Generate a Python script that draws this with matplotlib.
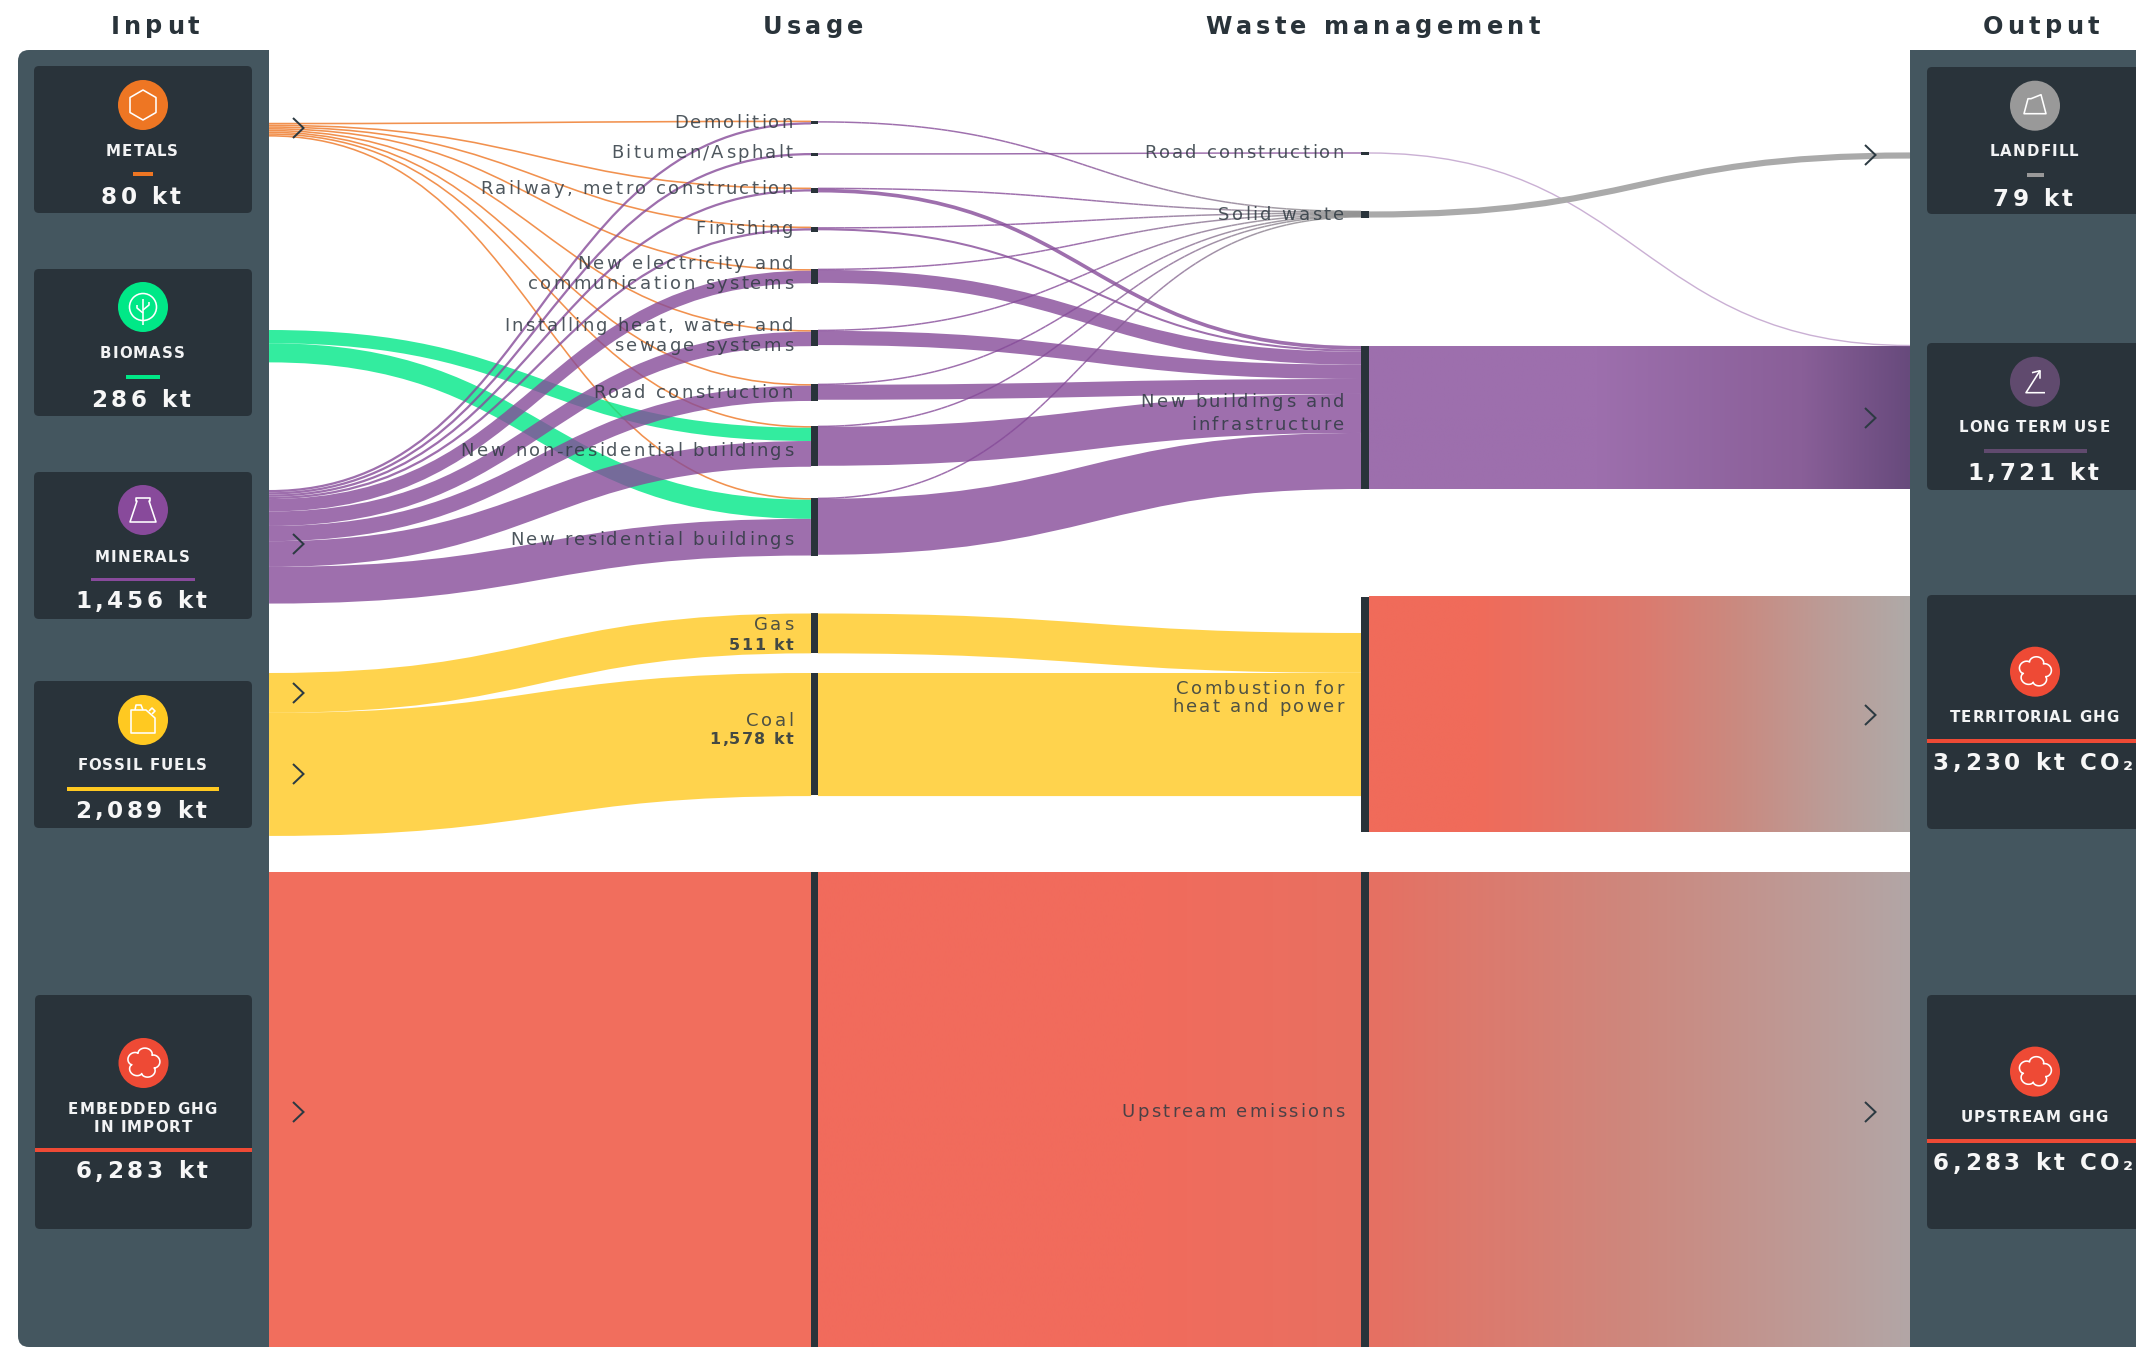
import numpy as np
import matplotlib
matplotlib.use('Agg')
import matplotlib.pyplot as plt
from matplotlib.path import Path
from matplotlib.patches import PathPatch, Rectangle, FancyBboxPatch, Circle, Polygon
from matplotlib.collections import LineCollection
from matplotlib.text import Text
from matplotlib.transforms import IdentityTransform

# values in kt (thin links are estimates)
usage_nodes = ['Demolition', 'Bitumen', 'Railway', 'Finishing', 'Electricity', 'Heat', 'Road', 'NonRes', 'Res']
metals_targets = ['Demolition', 'Railway', 'Finishing', 'Electricity', 'Heat', 'Road', 'NonRes', 'Res']
metals_values = [10, 10, 10, 10, 10, 10, 10, 10]
biomass_targets = ['NonRes', 'Res']
biomass_values = [170, 245]
minerals_targets = usage_nodes
minerals_values = [29, 29, 29, 29, 160, 185, 195, 330, 470]
fossil_targets = ['Gas', 'Coal']
fossil_values = [511, 1578]
embedded_value = 6283

solid_sources = ['Demolition', 'Railway', 'Finishing', 'Electricity', 'Heat', 'Road', 'NonRes', 'Res']
solid_values = [10, 10, 10, 10, 10, 10, 10, 10]
building_sources = ['Railway', 'Finishing', 'Electricity', 'Heat', 'Road', 'NonRes', 'Res']
building_values = [47, 26, 167, 183, 192, 500, 718]
road_value = 10
landfill_value = 79
combustion_band = 3013

input_cards = [('METALS', '80 kt'), ('BIOMASS', '286 kt'), ('MINERALS', '1,456 kt'),
               ('FOSSIL FUELS', '2,089 kt'), ('EMBEDDED GHG\nIN IMPORT', '6,283 kt')]
output_cards = [('LANDFILL', '79 kt'), ('LONG TERM USE', '1,721 kt'),
                ('TERRITORIAL GHG', '3,230 kt CO₂'), ('UPSTREAM GHG', '6,283 kt CO₂')]
usage_labels = ['Demolition', 'Bitumen/Asphalt', 'Railway, metro construction', 'Finishing',
                'New electricity and\ncommunication systems', 'Installing heat, water and\nsewage systems',
                'Road construction', 'New non-residential buildings', 'New residential buildings']
waste_labels = ['Road construction', 'Solid waste', 'New buildings and\ninfrastructure',
                'Combustion for\nheat and power', 'Upstream emissions']

# layout, in picture pixels
W, H = 2136, 1347
DPI = 100
SCALE = 0.078
X_IN, X_USE0, X_USE1, X_WST0, X_WST1, X_OUT = 269, 811, 818, 1361, 1368.5, 1910
DARK = '#29333A'
PANEL = '#44565F'
ORANGE, GREEN, PURPLE, YELLOW, RED, GREY = '#EE7623', '#00E887', '#864B99', '#FFC921', '#EE4A35', '#AAAAAA'

in_top = {'Demolition': 120.5, 'Bitumen': 153, 'Railway': 187.5, 'Finishing': 226.5, 'Electricity': 269,
          'Heat': 330, 'Road': 384, 'NonRes': 426, 'Res': 498, 'Gas': 613.5, 'Coal': 673, 'Upstream': 872}
out_top = {'Demolition': 121.5, 'Bitumen': 153.5, 'Railway': 188, 'Finishing': 227.5, 'Electricity': 269,
           'Heat': 330, 'Road': 384, 'NonRes': 426, 'Res': 498, 'Gas': 613.5, 'Coal': 673, 'Upstream': 872}
bar_span = {'Demolition': (121, 124), 'Bitumen': (153, 156), 'Railway': (188, 193), 'Finishing': (227, 232),
            'Electricity': (269, 284), 'Heat': (330, 346), 'Road': (384, 401), 'NonRes': (426, 466),
            'Res': (498, 556), 'Gas': (613, 653), 'Coal': (673, 795), 'Upstream': (872, 1347)}

plt.rcParams['font.family'] = ['DejaVu Sans']
fig = plt.figure(figsize=(W / DPI, H / DPI), dpi=DPI)
ax = fig.add_axes([0, 0, 1, 1])
ax.set_axis_off()


def px(size):
    return size * 72 / DPI


class SpacedText(Text):
    # one text object, drawn with letter spacing (given in pixels)
    spacing = 0.0

    def draw(self, renderer):
        s = self.get_text()
        prop = self.get_fontproperties()
        w, h, d = renderer.get_text_width_height_descent(s, prop, False)
        total = w + self.spacing * (len(s) - 1)
        x, y = self.get_transform().transform(self.get_position())
        start = {'left': x, 'center': x - total / 2, 'right': x - total}[self.get_horizontalalignment()]
        base = y - (h / 2 - d)
        for i, ch in enumerate(s):
            adv = renderer.get_text_width_height_descent(s[:i], prop, False)[0] if i else 0
            t = Text(start + adv + i * self.spacing, base, ch, fontproperties=prop, color=self.get_color(),
                     alpha=self.get_alpha(), ha='left', va='baseline', transform=IdentityTransform())
            t.set_figure(self.get_figure())
            t.draw(renderer)


def label(x, y, s, size, spacing, pitch=20.5, weight='normal', color='#2F3A42', alpha=None, ha='right', z=8):
    # y is the middle of the whole block, one object per line
    lines = s.split('\n')
    for i, line in enumerate(lines):
        t = SpacedText(x, y + (i - (len(lines) - 1) / 2) * pitch, line, color=color, alpha=alpha, ha=ha, va='center',
                       fontsize=px(size), fontweight=weight, zorder=z)
        t.spacing = spacing
        ax.add_artist(t)


def link(x0, y0, x1, y1, width, color, alpha=0.8, z=2):
    xm = (x0 + x1) / 2
    p = Path([(x0, y0), (xm, y0), (xm, y1), (x1, y1)], [Path.MOVETO, Path.CURVE4, Path.CURVE4, Path.CURVE4])
    ax.add_patch(PathPatch(p, fc='none', ec=color, alpha=alpha, lw=px(width), capstyle='butt', zorder=z))


def fade_link(x0, y0, x1, y1, width, c0, c1):
    # thin link going from one colour to another along its length
    xm = (x0 + x1) / 2
    t = np.linspace(0, 1, 90)[:, None]
    pts = ((1 - t) ** 3) * [x0, y0] + 3 * ((1 - t) ** 2) * t * [xm, y0] + 3 * (1 - t) * t ** 2 * [xm, y1] + t ** 3 * [x1, y1]
    segs = np.stack([pts[:-1], pts[1:]], axis=1)
    a = np.array(matplotlib.colors.to_rgb(c0))
    b = np.array(matplotlib.colors.to_rgb(c1))
    cols = [(*(a + (b - a) * np.clip((v - 0.45) / 0.5, 0, 1)), 0.8) for v in t[:-1, 0]]
    ax.add_collection(LineCollection(segs, colors=cols, linewidths=px(width), capstyle='butt', zorder=2.5))


def stage1(top, targets, values, color, slot=0.0, draw=None):
    y = top
    for name, v in zip(targets, values):
        w = max(v * SCALE, slot)
        yt = in_top[name]
        link(X_IN, y + w / 2, X_USE0, yt + w / 2, draw if draw else w, color)
        y += w
        in_top[name] = yt + w


def gradient(x0, x1, y0, y1, stops, colors):
    t = np.linspace(0, 1, 256)
    rgb = np.array([[np.interp(t, stops, [c[i] for c in colors]) for i in range(3)]]) / 255
    ax.imshow(np.moveaxis(rgb, 1, 2), extent=(x0, x1, y1, y0), aspect='auto', interpolation='bilinear', zorder=1.5)


# input flows: orange under green under purple
stage1(122.7, metals_targets, metals_values, ORANGE, slot=1.75, draw=1.6)
stage1(330, biomass_targets, biomass_values, GREEN)
stage1(490, minerals_targets, minerals_values, PURPLE)
stage1(673, fossil_targets, fossil_values, YELLOW)
band = embedded_value * SCALE
ax.add_patch(Rectangle((X_IN, 872), X_USE0 - X_IN, band, fc=RED, alpha=0.8, ec='none', zorder=2))

# usage to waste
solid_y = 211.0
for name, v in zip(solid_sources, solid_values):
    w = v * SCALE
    fade_link(X_USE1, out_top[name] + w / 2, X_WST0, solid_y + w / 2, 1.5, PURPLE, '#8C8C8C')
    out_top[name] += w
    solid_y += w

build_y = 346.0
for name, v in zip(building_sources, building_values):
    w = v * SCALE
    link(X_USE1, out_top[name] + w / 2, X_WST0, build_y + w / 2, w, PURPLE)
    out_top[name] += w
    build_y += w

link(X_USE1, 154, X_WST0, 153, max(road_value * SCALE, 1.5), PURPLE)
gas_w, coal_w = [v * SCALE for v in fossil_values]
link(X_USE1, 613.5 + gas_w / 2, X_WST0, 633 + gas_w / 2, gas_w, YELLOW)
link(X_USE1, 673 + coal_w / 2, X_WST0, 673 + coal_w / 2, coal_w, YELLOW)
gradient(X_USE1, X_WST0, 872, 872 + band, [0, 0.6, 1], [(241, 107, 92), (241, 107, 92), (232, 112, 97)])

# waste to output
link(X_WST1, 153, X_OUT, 345.5, 1.4, '#B48FC2', alpha=0.7)
link(X_WST1, 214.5, X_OUT, 155.5, landfill_value * SCALE, GREY, alpha=1)
gradient(X_WST1, X_OUT, 346, build_y, [0, 0.42, 0.8, 1],
         [(157, 111, 173), (157, 111, 173), (137, 95, 152), (103, 74, 124)])
gradient(X_WST1, X_OUT, 597, 597 + combustion_band * SCALE, [0, 0.2, 0.5, 0.68, 0.84, 1],
         [(240, 107, 90), (240, 107, 90), (220, 122, 110), (202, 138, 128), (188, 155, 150), (175, 170, 168)])
gradient(X_WST1, X_OUT, 872, 872 + band, [0, 0.5, 1], [(230, 112, 98), (205, 136, 126), (178, 166, 166)])

# node bars
for name, (y0, y1) in bar_span.items():
    ax.add_patch(Rectangle((X_USE0, y0), X_USE1 - X_USE0, y1 - y0, fc=DARK, ec='none', zorder=4))
for y0, y1 in [(152, 154.5), (211, 217.5), (346, 489), (597, 832), (872, 1347)]:
    ax.add_patch(Rectangle((X_WST0, y0), X_WST1 - X_WST0, y1 - y0, fc=DARK, ec='none', zorder=4))

# side panels
ax.add_patch(FancyBboxPatch((18, 50), 40, H - 50, boxstyle='round,pad=0,rounding_size=11', fc=PANEL, ec='none', zorder=5))
ax.add_patch(Rectangle((30, 50), X_IN - 30, H - 50, fc=PANEL, ec='none', zorder=5))
ax.add_patch(Rectangle((X_OUT, 50), W - X_OUT, H - 50, fc=PANEL, ec='none', zorder=5))


def icon_line(pts, cx, cy, closed=False):
    pts = np.array(pts, dtype=float) + [cx, cy]
    ax.add_patch(Polygon(pts, closed=closed, fc='none', ec='white', lw=px(1.6), joinstyle='round', zorder=7))


def draw_icon(kind, cx, cy):
    if kind == 'hex':
        a = np.radians(np.arange(30, 390, 60))
        icon_line(np.c_[15 * np.cos(a), 15 * np.sin(a)], cx, cy, True)
    elif kind == 'tree':
        ax.add_patch(Circle((cx, cy), 13.5, fc='none', ec='white', lw=px(1.6), zorder=7))
        icon_line([(0, -8), (0, 18)], cx, cy)
        icon_line([(-6, -2), (-6, 1), (0, 6)], cx, cy)
        icon_line([(6, -5), (6, -2), (0, 3)], cx, cy)
    elif kind == 'flask':
        icon_line([(-7, -12), (7, -12), (7, -9), (6, -9), (13, 12), (-13, 12), (-6, -9), (-7, -9)], cx, cy, True)
    elif kind == 'can':
        icon_line([(-12, -10), (3, -10), (12, -2), (12, 13), (-12, 13)], cx, cy, True)
        icon_line([(-8, -10), (-7, -15), (-2, -15), (0, -10)], cx, cy)
        icon_line([(6, -9), (9, -12), (12, -9), (9, -6)], cx, cy)
    elif kind == 'cloud':
        t = np.linspace(0, 2 * np.pi, 300)
        r = 10.5 + 4.5 * np.abs(np.cos(2.5 * t + 0.4)) ** 0.6
        icon_line(np.c_[1.1 * r * np.cos(t), r * np.sin(t)], cx, cy, True)
    elif kind == 'hill':
        icon_line([(-11, 8), (11, 8), (6, -11), (-4, -7), (-7, -7)], cx, cy, True)
    elif kind == 'arrow':
        icon_line([(10, 11), (-9, 11), (5, -11)], cx, cy)
        icon_line([(-3, -9), (5, -11), (5, -3)], cx, cy)


def card(x0, x1, y0, y1, cx, cy, kind, color, name, name_y, value, value_y, bar_x, bar_y):
    ax.add_patch(FancyBboxPatch((x0, y0), x1 - x0, y1 - y0, boxstyle='round,pad=0,rounding_size=5',
                                fc=DARK, ec='none', zorder=6))
    ax.add_patch(Circle((cx, cy), 25, fc=color, ec='none', zorder=6.5))
    draw_icon(kind, cx, cy)
    label(cx - 1, name_y - 0.5, name, 15, 1.1, pitch=17, weight='bold', color='#F2F3F4', ha='center', z=7)
    ax.add_patch(Rectangle((bar_x[0], bar_y - 1.7), bar_x[1] - bar_x[0], 3.4, fc=color, ec='none', zorder=7))
    label(cx - 2, value_y, value, 23, 3.5, weight='bold', color='#F7F7F7', ha='center', z=7)


card(34, 252, 66, 213, 143, 105, 'hex', ORANGE, input_cards[0][0], 150, input_cards[0][1], 195, (133, 153), 174)
card(34, 252, 269, 416, 143, 307, 'tree', GREEN, input_cards[1][0], 353, input_cards[1][1], 398, (126, 160), 377)
card(34, 252, 472, 619, 143, 510, 'flask', '#884A9B', input_cards[2][0], 556, input_cards[2][1], 601, (91, 195), 579.5)
card(34, 252, 681, 828, 143, 720, 'can', YELLOW, input_cards[3][0], 765, input_cards[3][1], 810, (67, 219), 789)
card(35, 252, 995, 1229, 143.5, 1063, 'cloud', RED, input_cards[4][0], 1117.5, input_cards[4][1], 1171, (35, 252), 1150)
card(1927, 2150, 67, 214, 2035, 105.7, 'hill', '#999999', output_cards[0][0], 151, output_cards[0][1], 197, (2027, 2044), 175)
card(1927, 2150, 343, 490, 2035, 381.7, 'arrow', '#604A6E', output_cards[1][0], 427, output_cards[1][1], 472, (1984, 2087), 451)
card(1927, 2150, 595, 829, 2035, 671.7, 'cloud', RED, output_cards[2][0], 717, output_cards[2][1], 762, (1927, 2136), 741)
card(1927, 2150, 995, 1229, 2035, 1071.6, 'cloud', RED, output_cards[3][0], 1116.6, output_cards[3][1], 1163, (1927, 2136), 1141)

# chevrons
for cx, cy in [(298, 128), (298, 544), (298, 693), (298, 774), (298, 1112),
               (1870, 155), (1870, 418), (1870, 715), (1870, 1112)]:
    ax.plot([cx - 5, cx + 5.5, cx - 5], [cy - 10, cy, cy + 10], color='#2C3A42', lw=px(2), zorder=4.5,
            solid_joinstyle='miter', solid_capstyle='butt')

# titles
for s, x in [('Input', 155), ('Usage', 813), ('Waste management', 1373), ('Output', 2041)]:
    label(x, 27, s, 24, 4.3, weight='bold', color=DARK, ha='center')

# flow labels
usage_y = [121, 153.5, 188.5, 229.5, 274, 336.5, 391, 451.5, 540]
for s, y in zip(usage_labels, usage_y):
    label(793, y, s, 18, 2.3, alpha=0.85)
waste_y = [151.5, 213, 412.5, 697, 1112]
for s, y in zip(waste_labels, waste_y):
    label(1344, y, s, 18, 2.3, alpha=0.85)

for s, b, y in [('Gas', '511 kt', 624), ('Coal', '1,578 kt', 719)]:
    label(793, y, s, 18, 2.3, alpha=0.85)
    label(793, y + 20, b, 16, 1.3, weight='bold', alpha=0.9)

ax.set_xlim(0, W)
ax.set_ylim(H, 0)
fig.savefig('out.png', dpi=DPI, facecolor='white')
